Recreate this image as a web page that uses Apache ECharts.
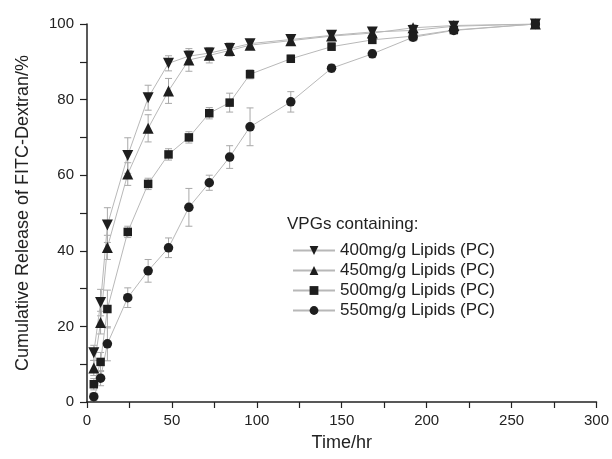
<!DOCTYPE html>
<html>
<head>
<meta charset="utf-8">
<script src="https://cdn.jsdelivr.net/npm/echarts@6/dist/echarts.min.js"></script>
<style>html,body{margin:0;padding:0;background:#fff;}#c{width:612px;height:459px;}</style>
</head>
<body>
<div id="c"></div>
<script>
var times = [4, 8, 12, 24, 36, 48, 60, 72, 84, 96, 120, 144, 168, 192, 216, 264];
var seriesNames = ['400mg/g Lipids (PC)', '450mg/g Lipids (PC)', '500mg/g Lipids (PC)', '550mg/g Lipids (PC)'];
var release400 = [13, 26.3, 46.8, 65.2, 80.5, 89.6, 91.5, 92.3, 93.5, 94.8, 95.9, 97, 97.9, 98.3, 99.4, 100];
var release450 = [9, 21, 40.9, 60.3, 72.4, 82.3, 90.5, 91.7, 93, 94.4, 95.6, 96.8, 97.6, 99, 99.6, 100];
var release500 = [4.7, 10.6, 24.6, 45, 57.7, 65.5, 70, 76.4, 79.2, 86.7, 90.8, 94, 95.8, 96.8, 98.4, 100];
var release550 = [1.4, 6.3, 15.4, 27.6, 34.7, 40.8, 51.5, 58, 64.8, 72.8, 79.4, 88.3, 92.1, 96.5, 98.3, 100];
var err400 = [2, 3.5, 4.6, 4.7, 3.3, 2, 1.5, 1.5, 1.5, 1, 1, 1, 0.8, 0.8, 0.5, 0.3];
var err450 = [2, 3, 3.2, 3, 3.6, 3.3, 3, 2, 1.5, 1, 1, 1, 0.8, 0.8, 0.5, 0.3];
var err500 = [1.5, 2.5, 5, 1.5, 1.5, 1.5, 1.5, 1.5, 2.5, 1.2, 1, 1, 0.8, 0.8, 0.5, 0.3];
var err550 = [1, 2, 4.5, 2.6, 3, 2.6, 5, 2, 3, 5, 2.7, 1, 1, 1, 0.5, 0.3];
var xTicks = [0, 50, 100, 150, 200, 250, 300];
var yTicks = [0, 20, 40, 60, 80, 100];

var values = [release400, release450, release500, release550];
var errors = [err400, err450, err500, err550];
var symbols = ['triangle', 'triangle', 'rect', 'circle'];
var rotates = [180, 0, 0, 0];
var sizes = [11, 11, 8.5, 9.5];
var FONT = 'Liberation Sans, Arial, sans-serif';

function pairs(v) { return times.map(function (t, i) { return [t, v[i]]; }); }
function triples(v, e) { return times.map(function (t, i) { return [t, v[i], e[i]]; }); }

function errRender(params, api) {
  var x = api.value(0), y = api.value(1), e = api.value(2);
  var top = api.coord([x, y + e]);
  var bot = api.coord([x, y - e]);
  var hw = 3.5;
  var st = { stroke: '#a8a8a8', lineWidth: 1 };
  return {
    type: 'group',
    children: [
      { type: 'line', shape: { x1: top[0], y1: top[1], x2: bot[0], y2: bot[1] }, style: st },
      { type: 'line', shape: { x1: top[0] - hw, y1: top[1], x2: top[0] + hw, y2: top[1] }, style: st },
      { type: 'line', shape: { x1: bot[0] - hw, y1: bot[1], x2: bot[0] + hw, y2: bot[1] }, style: st }
    ]
  };
}

var series = [];
values.forEach(function (v, k) {
  series.push({
    type: 'custom',
    name: seriesNames[k] + ' err',
    renderItem: errRender,
    data: triples(v, errors[k]),
    z: 1,
    silent: true
  });
});
values.forEach(function (v, k) {
  series.push({
    type: 'line',
    name: seriesNames[k],
    data: pairs(v),
    symbol: symbols[k],
    symbolRotate: rotates[k],
    symbolSize: sizes[k],
    showAllSymbol: true,
    lineStyle: { color: '#b8b8b8', width: 1 },
    itemStyle: { color: '#1e1e1e', borderWidth: 0 },
    z: 3,
    animation: false
  });
});

var chart = echarts.init(document.getElementById('c'), null, { renderer: 'canvas' });
chart.setOption({
  animation: false,
  backgroundColor: '#fff',
  grid: { left: 87, right: 11, top: 24, bottom: 57, containLabel: false },
  xAxis: {
    type: 'value', min: xTicks[0], max: xTicks[xTicks.length - 1], interval: 50,
    name: 'Time/hr', nameLocation: 'middle', nameGap: 32,
    nameTextStyle: { fontFamily: FONT, fontSize: 18, color: '#222' },
    axisLine: { show: true, onZero: false, lineStyle: { color: '#222', width: 1.5 } },
    axisTick: { show: true, inside: false, length: 6, lineStyle: { color: '#222', width: 1.2 } },
    minorTick: { show: true, splitNumber: 2, length: 6, lineStyle: { color: '#222', width: 1.2 } },
    axisLabel: { fontFamily: FONT, fontSize: 15, color: '#222', margin: 11 },
    splitLine: { show: false }
  },
  yAxis: {
    type: 'value', min: yTicks[0], max: yTicks[yTicks.length - 1], interval: 20,
    name: 'Cumulative Release of FITC-Dextran/%', nameLocation: 'middle', nameGap: 55, nameRotate: 90,
    nameTextStyle: { fontFamily: FONT, fontSize: 18, color: '#222' },
    axisLine: { show: true, onZero: false, lineStyle: { color: '#222', width: 1.5 } },
    axisTick: { show: true, inside: false, length: 7, lineStyle: { color: '#222', width: 1.2 } },
    minorTick: { show: true, splitNumber: 2, length: 7, lineStyle: { color: '#222', width: 1.2 } },
    axisLabel: { fontFamily: FONT, fontSize: 15, color: '#222', margin: 13 },
    splitLine: { show: false }
  },
  legend: {
    data: seriesNames,
    orient: 'vertical',
    left: 287, top: 237,
    itemWidth: 42, itemHeight: 11, itemGap: 3,
    textStyle: { fontFamily: FONT, fontSize: 17, color: '#222' },
    selectedMode: false
  },
  graphic: [{
    type: 'text', left: 287, top: 216,
    style: { text: 'VPGs containing:', font: '17px ' + FONT, fill: '#222' }
  }],
  series: series
});
</script>
</body>
</html>
